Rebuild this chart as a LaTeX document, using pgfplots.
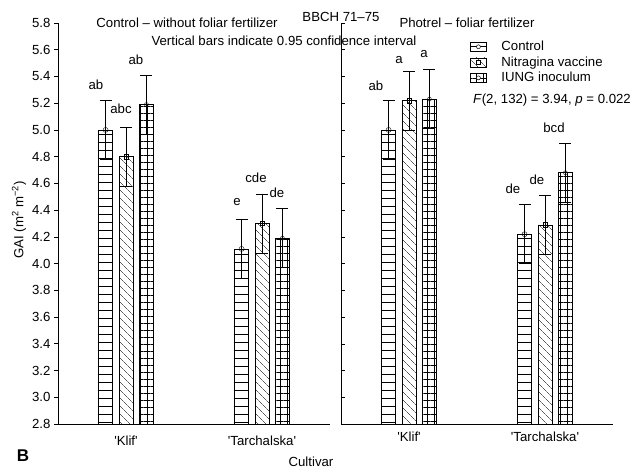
\documentclass[border=0pt]{standalone}
\usepackage{pgfplots}
\pgfplotsset{compat=1.18}
\usepackage{fontspec}
\setmainfont{Liberation Sans}
\usetikzlibrary{patterns.meta}

\newcommand{\fs}{\fontsize{13.2bp}{15.5bp}\selectfont}
\tikzset{
  patH/.style={pattern={Lines[angle=0,distance=8bp,line width=0.5pt]}},
  patD/.style={pattern={Lines[angle=-45,distance=6bp,line width=0.5pt]}},
  patG/.style={pattern={Hatch[angle=0,distance=7bp,line width=0.5pt]}},
}
\pgfplotsset{
  panel/.style={
    scale only axis, width=272bp, height=401bp, anchor=south west,
    xmin=0.5, xmax=2.5, ymin=2.8, ymax=5.8,
    axis x line*=bottom, axis y line*=left,
    xtick={1,2},
    xticklabels={\textquotesingle Klif\textquotesingle, \textquotesingle Tarchalska\textquotesingle},
    xticklabel style={yshift=-4bp},
    x tick style={draw=none},
    ytick={2.8,3.0,3.2,3.4,3.6,3.8,4.0,4.2,4.4,4.6,4.8,5.0,5.2,5.4,5.6,5.8},
    yticklabel style={/pgf/number format/.cd, fixed, fixed zerofill, precision=1, assume math mode=true},
    y tick style={black, line width=0.6pt},
    major tick length=4bp,
    axis line style={line width=0.8pt},
    tick label style={font=\fs},
    clip=true,
  },
  bar/.style={ybar, bar width=14bp, bar shift=0pt, draw=black, line width=0.6pt,
    error bars/y dir=both, error bars/y explicit,
    error bars/error bar style={line width=0.6pt, black},
    error bars/error mark options={rotate=90, mark size=6bp, black, line width=0.6pt}},
}

\begin{document}
\begin{tikzpicture}[font=\fs]
\path[use as bounding box] (0,0) rectangle (642bp,470bp);

% Left panel: Control - without foliar fertilizer
\begin{axis}[panel, at={(58bp,46bp)}, tick align=outside]
\addplot[bar, patH] coordinates {(0.85,5.00) +- (0,0.22) (1.85,4.11) +- (0,0.22)};
\addplot[only marks, mark=o, mark size=2.5bp, black, forget plot] coordinates {(0.85,5.00) (1.85,4.11)};
\addplot[bar, patD] coordinates {(1.00,4.80) +- (0,0.22) (2.00,4.30) +- (0,0.22)};
\addplot[only marks, mark=square, mark size=2.2bp, black, forget plot] coordinates {(1.00,4.80) (2.00,4.30)};
\addplot[bar, patG] coordinates {(1.15,5.19) +- (0,0.22) (2.15,4.19) +- (0,0.22)};
\addplot[only marks, mark=o, mark size=2bp, black, forget plot] coordinates {(1.15,5.19) (2.15,4.19)};
\end{axis}

% Right panel: Photrel - foliar fertilizer
\begin{axis}[panel, at={(341bp,46bp)}, tick align=inside, yticklabels={},
  legend style={at={(0.474,0.96)}, anchor=north west, draw=none, fill=none,
    inner sep=0pt, row sep=0.5bp, font=\fs},
  legend cell align=left]
\addplot[bar, patH, legend image code/.code={
  \draw[black, line width=0.6pt, patH] (0bp,-4.5bp) rectangle (16bp,4.5bp);
  \draw[black, fill=white, line width=0.5pt] (8bp,0bp) circle (2bp);
  \path[draw=none, fill=none] (0,0) -- (29bp,0);}]
  coordinates {(0.85,5.00) +- (0,0.22) (1.85,4.22) +- (0,0.22)};
\addlegendentry{Control}
\addplot[only marks, mark=o, mark size=2.5bp, black, forget plot] coordinates {(0.85,5.00) (1.85,4.22)};
\addplot[bar, patD, legend image code/.code={
  \draw[black, line width=0.6pt, patD] (0bp,-4.5bp) rectangle (16bp,4.5bp);
  \draw[black, fill=white, line width=0.5pt] (6bp,-2bp) rectangle (10bp,2bp);
  \path[draw=none, fill=none] (0,0) -- (29bp,0);}]
  coordinates {(1.00,5.22) +- (0,0.22) (2.00,4.29) +- (0,0.22)};
\addlegendentry{Nitragina vaccine}
\addplot[only marks, mark=square, mark size=2.2bp, black, forget plot] coordinates {(1.00,5.22) (2.00,4.29)};
\addplot[bar, patG, legend image code/.code={
  \draw[black, line width=0.6pt, patG] (0bp,-4.5bp) rectangle (16bp,4.5bp);
  \draw[black, fill=white, line width=0.5pt] (8bp,0bp) circle (2bp);
  \path[draw=none, fill=none] (0,0) -- (29bp,0);}]
  coordinates {(1.15,5.23) +- (0,0.22) (2.15,4.68) +- (0,0.22)};
\addlegendentry{IUNG inoculum}
\addplot[only marks, mark=o, mark size=2bp, black, forget plot] coordinates {(1.15,5.23) (2.15,4.68)};
\end{axis}

\begin{scope}[x=1bp, y=-1bp, shift={(0,470bp)}, every node/.style={inner sep=0pt}]
\node at (187,23) {Control – without foliar fertilizer};
\node at (341,17) {BBCH 71–75};
\node at (284,41) {Vertical bars indicate 0.95 confidence interval};
\node at (467,23) {Photrel – foliar fertilizer};
\node at (552,100) {\textit{F}(2, 132) = 3.94, \textit{p} = 0.022};
% letters, left panel
\node at (96,85) {ab};
\node at (121,109) {abc};
\node at (136,60) {ab};
\node at (237,202) {e};
\node at (256,178) {cde};
\node at (277,193) {de};
% letters, right panel
\node at (376,86) {ab};
\node at (399,60) {a};
\node at (424,54) {a};
\node at (513,189) {de};
\node at (537,180) {de};
\node at (554,128) {bcd};
% axis titles
\node[rotate=90] at (19,220) {GAI (m\textsuperscript{2} m\textsuperscript{−2})};
\node at (311,462) {Cultivar};
\node[font=\bfseries\fontsize{17bp}{19bp}\selectfont] at (23,456) {B};
\end{scope}
\end{tikzpicture}
\end{document}
